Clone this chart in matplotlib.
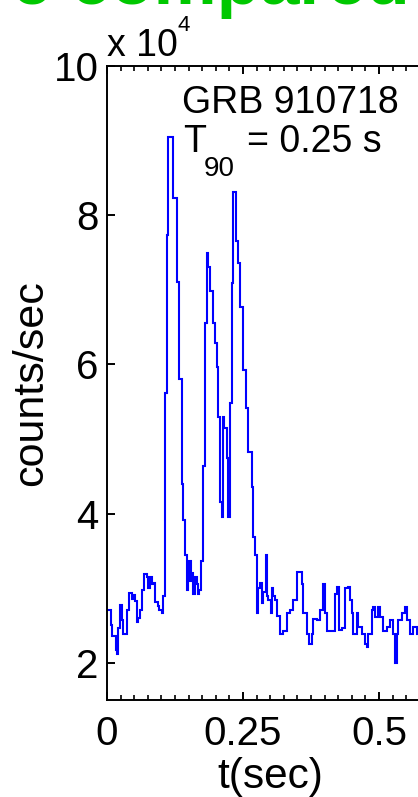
import matplotlib
matplotlib.use("Agg")
import matplotlib.pyplot as plt
from matplotlib.ticker import MultipleLocator

plt.rcParams['font.family'] = ['Liberation Sans', 'DejaVu Sans']

# time bin starts (s)
t_start = [
    0.0000, 0.0074, 0.0097, 0.0165, 0.0193, 0.0208, 0.0244, 0.0270, 0.0300, 0.0362,
    0.0404, 0.0454, 0.0483, 0.0515, 0.0546, 0.0575, 0.0612, 0.0649, 0.0686, 0.0730,
    0.0759, 0.0790, 0.0822, 0.0858, 0.0882, 0.0932, 0.0961, 0.1006, 0.1035, 0.1066,
    0.1097, 0.1127, 0.1219, 0.1278, 0.1329, 0.1373, 0.1403, 0.1434, 0.1465, 0.1483,
    0.1513, 0.1539, 0.1568, 0.1586, 0.1618, 0.1649, 0.1667, 0.1697, 0.1728, 0.1759,
    0.1801, 0.1833, 0.1862, 0.1893, 0.1943, 0.1985, 0.2017, 0.2046, 0.2077, 0.2108,
    0.2127, 0.2151, 0.2200, 0.2230, 0.2261, 0.2292, 0.2322, 0.2371, 0.2414, 0.2445,
    0.2494, 0.2564, 0.2597, 0.2660, 0.2689, 0.2721, 0.2752, 0.2776, 0.2812, 0.2844,
    0.2873, 0.2917, 0.2941, 0.2965, 0.3009, 0.3028, 0.3057, 0.3088, 0.3119, 0.3180,
    0.3241, 0.3303, 0.3364, 0.3425, 0.3487, 0.3579, 0.3608, 0.3671, 0.3719, 0.3763,
    0.3792, 0.3855, 0.3915, 0.3976, 0.4007, 0.4039, 0.4191, 0.4233, 0.4270, 0.4314,
    0.4375, 0.4436, 0.4467, 0.4498, 0.4528, 0.4590, 0.4619, 0.4682, 0.4743, 0.4774,
    0.4803, 0.4866, 0.4895, 0.4926, 0.4987, 0.5018, 0.5079, 0.5140, 0.5202, 0.5252,
    0.5294, 0.5325, 0.5355, 0.5417, 0.5478, 0.5509, 0.5570, 0.5632, 0.5693,
]
t_end = 0.58

# counts/sec (x 10^4)
counts = [
    2.70, 2.50, 2.36, 2.17, 2.12, 2.47, 2.77, 2.57, 2.39, 2.70,
    2.93, 2.86, 2.91, 2.83, 2.54, 2.60, 2.70, 2.97, 3.19, 3.15,
    3.00, 3.15, 3.05, 3.07, 2.81, 2.76, 2.70, 2.66, 2.90, 5.61,
    7.73, 9.05, 8.23, 7.10, 5.81, 4.40, 3.91, 3.44, 2.97, 3.10,
    3.36, 3.10, 3.20, 2.92, 3.15, 3.05, 2.92, 2.97, 3.36, 4.64,
    6.56, 7.49, 7.30, 6.99, 6.55, 6.28, 5.96, 5.29, 4.15, 3.95,
    5.29, 5.15, 4.75, 3.95, 5.48, 7.09, 8.31, 7.66, 7.36, 6.77,
    5.92, 5.41, 4.82, 4.35, 3.68, 3.44, 2.66, 3.00, 3.07, 2.80,
    2.95, 3.44, 2.90, 2.84, 2.66, 3.00, 2.90, 2.84, 2.62, 2.39,
    2.43, 2.66, 2.70, 2.84, 3.22, 3.06, 2.66, 2.39, 2.25, 2.39,
    2.59, 2.57, 2.70, 3.06, 2.66, 2.43, 2.92, 3.01, 2.44, 2.46,
    3.00, 3.01, 2.84, 2.66, 2.39, 2.66, 2.48, 2.39, 2.25, 2.21,
    2.39, 2.70, 2.75, 2.61, 2.75, 2.61, 2.43, 2.48, 2.57, 2.39,
    1.99, 2.39, 2.57, 2.66, 2.75, 2.57, 2.39, 2.48, 2.39,
]

x_ticks = [0, 0.25, 0.5]
x_ticklabels = ['0', '0.25', '0.5']
y_ticks = [2, 4, 6, 8, 10]
y_ticklabels = ['2', '4', '6', '8', '10']

W, H = 418, 797
fig = plt.figure(figsize=(W / 100, H / 100), dpi=100)
ax = fig.add_axes([107 / W, 97 / H, 326.4 / W, 634 / H])

edges = t_start + [t_end]
ax.stairs(counts, edges, baseline=None, color='#0000ff', linewidth=1.5)

ax.set_xlim(0, 0.6)
ax.set_ylim(1.5, 10)
ax.set_xticks(x_ticks)
ax.set_xticklabels(x_ticklabels)
ax.xaxis.set_minor_locator(MultipleLocator(0.025))
ax.set_yticks(y_ticks)
ax.set_yticklabels(y_ticklabels)

for s in ax.spines.values():
    s.set_linewidth(1.4)
ax.tick_params(axis='both', which='major', direction='in', length=6, width=1.4,
               labelsize=29, top=True, right=True)
ax.tick_params(axis='x', which='major', pad=11)
ax.tick_params(axis='y', which='major', pad=6)
ax.tick_params(axis='x', which='minor', direction='in', length=3.5, width=1.2, top=True)
ax.tick_params(axis='y', which='minor', left=False, right=False)

ax.set_xlabel('t(sec)', fontsize=30.5, labelpad=3)
ax.set_ylabel('counts/sec', fontsize=31, labelpad=2)

def px(x, y):
    return x / W, 1 - y / H

# axis multiplier
fig.text(*px(107, 56), 'x 10', fontsize=27, ha='left', va='baseline')
fig.text(*px(177, 31), '4', fontsize=16, ha='left', va='baseline')

# annotations
fig.text(*px(182, 113), 'GRB 910718', fontsize=27, ha='left', va='baseline')
fig.text(*px(183, 152), 'T', fontsize=27, ha='left', va='baseline')
fig.text(*px(204, 176), '90', fontsize=20, ha='left', va='baseline')
fig.text(*px(247, 152), '= 0.25 s', fontsize=27, ha='left', va='baseline')

# clipped heading from the surrounding slide (only its bottom edge shows)
fig.text(*px(12, 4), 'e compared wi', fontsize=51, fontweight='bold',
         color='#00c800', ha='left', va='baseline')

fig.savefig('out.png', dpi=100)
